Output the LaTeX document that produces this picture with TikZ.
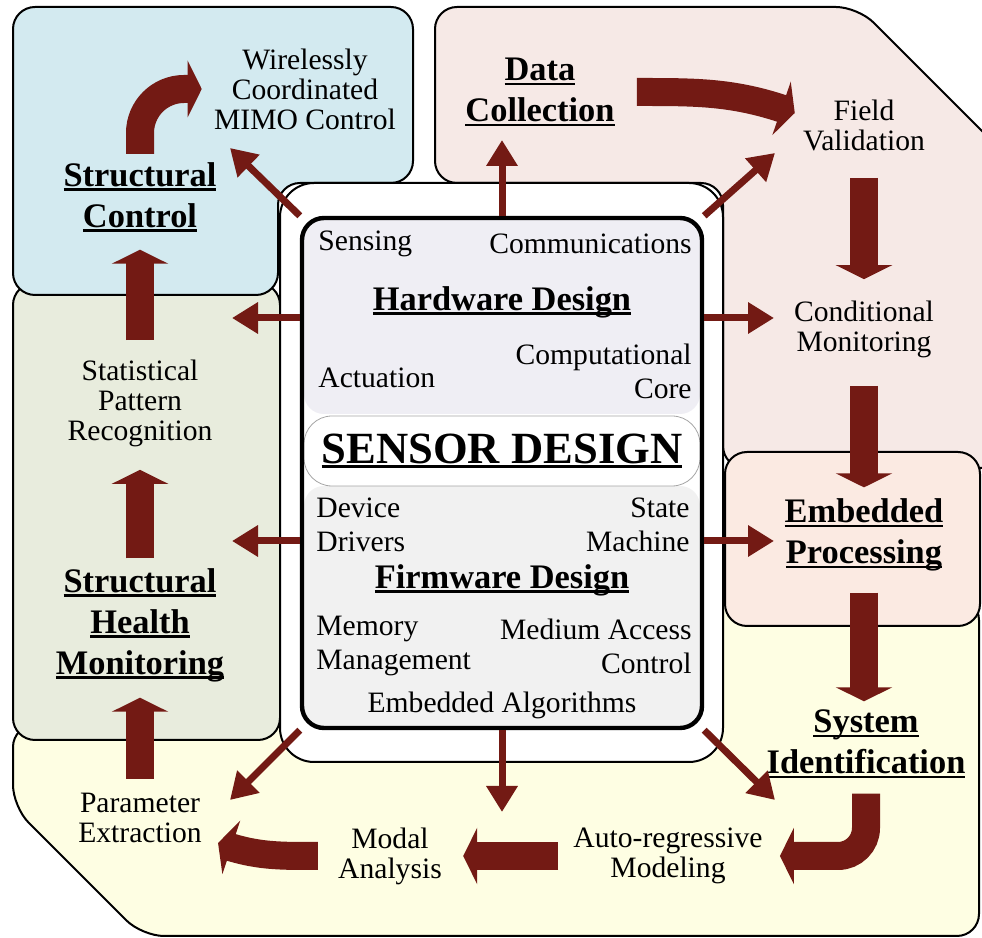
\documentclass[tikz,border=0pt]{standalone}
\usepackage{fontspec}
\setmainfont{Liberation Serif}
\usepackage{tikz}
\usetikzlibrary{arrows.meta, bending, positioning}
\definecolor{myblue}{HTML}{D3EAF0}
\definecolor{mygreen}{HTML}{E8ECDD}
\definecolor{mypink}{HTML}{F6E9E6}
\definecolor{mypeach}{HTML}{FBEAE2}
\definecolor{myyellow}{HTML}{FEFEE3}
\definecolor{mylilac}{HTML}{EFEEF4}
\definecolor{mygrey}{HTML}{F1F1F1}
\definecolor{myred}{HTML}{731A14}
\newcommand{\uword}[2][1.3pt]{\setbox0=\hbox{#2}\rlap{\rule[-2.4pt]{\wd0}{#1}}\box0}

\begin{document}
\begin{tikzpicture}[x=0.5pt, y=0.5pt,
	zone/.style={draw=black, line width=1pt, rounded corners=11pt},
	ray/.style={myred, line width=3.5pt, -{Triangle[length=13pt,width=15pt]}},
	block/.style={myred, line width=14pt, -{Triangle[length=7pt,width=28pt]}},
	txt/.style={font=\fontsize{14.8}{15}\selectfont, align=center, inner sep=0pt},
	inner/.style={font=\fontsize{14.8}{17}\selectfont, inner sep=0pt},
	head/.style={font=\fontsize{17.2}{20.5}\selectfont\bfseries, align=center, inner sep=0pt}]
	\useasboundingbox (0,0) rectangle (982,938);
	\clip (0,0) rectangle (982,938);
	\draw [zone, fill=myyellow] (13,213) -- (13,131) -- (142,2) -- (979,2) -- (979,340) -- (600,340) -- (600,213) -- cycle;
	\draw [zone, fill=mygreen] (13,198) rectangle (280,655);
	\draw [zone, fill=myblue] (13,931) -- (413,931) -- (413,755) -- (278,755) -- (278,643) -- (13,643) -- cycle;
	\draw [zone, fill=mypink] (435,755) -- (435,931) -- (858,931) -- (1100,689) -- (1100,470) -- (723,470) -- (723,755) -- cycle;
	\draw [zone, fill=mypeach] (725,312) rectangle (980,486);
	\draw [zone, fill=white, rounded corners=17pt] (280,176) rectangle (723,755);

	\fill [mylilac, rounded corners=10pt] (304,524) rectangle (700,718);
	\fill [mygrey, rounded corners=10pt] (304,212) rectangle (700,452);
	\draw [gray!70, fill=white, line width=0.4pt, rounded corners=14pt] (304,452) rectangle (700,522);
	\node [draw, line width=2.2pt, rounded corners=11pt, minimum width=200pt, minimum height=255pt] (sensor) at (502,465) {};

	\node [inner, anchor=west] (sensing) at (318,694) {Sensing};
	\node [inner, anchor=east] (comms) at (692,694) {Communications};
	\node [head] (hw) at (502,636) {\uword{Hardware Design}};
	\node [inner, anchor=west] (act) at (318,560) {Actuation};
	\node [inner, anchor=east, align=right] (core) at (692,567) {Computational\\Core};
	\node [font=\fontsize{22.3}{24}\selectfont\bfseries, inner sep=0pt] (title) at (502,487) {\uword[1.8pt]{SENSOR DESIGN}};
	\node [inner, anchor=west, align=left] (drivers) at (316,413) {Device\\Drivers};
	\node [inner, anchor=east, align=right] (fsm) at (690,413) {State\\Machine};
	\node [head] (fw) at (502,358) {\uword{Firmware Design}};
	\node [inner, anchor=west, align=left] (memory) at (316,292) {Memory\\Management};
	\node [inner, anchor=east, align=right] (mac) at (692,292) {Medium Access\\Control};
	\node [inner] (algo) at (502,233) {Embedded Algorithms};

	\node [txt] (mimo) at (305,849) {Wirelessly\\Coordinated\\MIMO Control};
	\node [head] (sc) at (140,741) {\uword{Structural}\\\uword{Control}};
	\node [head] (dc) at (540,846) {\uword{Data}\\\uword{Collection}};
	\node [txt] (fv) at (864,813) {Field\\Validation};
	\node [txt] (cm) at (864,609) {Conditional\\Monitoring};
	\node [head] (ep) at (864,403) {\uword{Embedded}\\\uword{Processing}};
	\node [head] (si) at (866,194) {\uword{System}\\\uword{Identification}};
	\node [txt] (ar) at (668,82) {Auto-regressive\\Modeling};
	\node [txt] (ma) at (390,82) {Modal\\Analysis};
	\node [txt] (pe) at (140,120) {Parameter\\Extraction};
	\node [head] (shm) at (140,313) {\uword{Structural}\\\uword{Health}\\\uword{Monitoring}};
	\node [txt] (spr) at (140,535) {Statistical\\Pattern\\Recognition};

	\coordinate (toMIMO) at (230,790);
	\coordinate (toDC) at (502,798);
	\coordinate (toFV) at (775,785);
	\coordinate (toSPR) at (232,620);
	\coordinate (toCM) at (774,620);
	\coordinate (toSHM) at (232,397);
	\coordinate (toEP) at (774,397);
	\coordinate (toPE) at (230,138);
	\coordinate (toMA) at (502,126);
	\coordinate (toAR) at (775,138);
	\draw [ray] (sensor.north west) -- (toMIMO);
	\draw [ray] (sensor.north) -- (toDC);
	\draw [ray] (sensor.north east) -- (toFV);
	\draw [ray] (sensor.west |- toSPR) -- (toSPR);
	\draw [ray] (sensor.east |- toCM) -- (toCM);
	\draw [ray] (sensor.west |- toSHM) -- (toSHM);
	\draw [ray] (sensor.east |- toEP) -- (toEP);
	\draw [ray] (sensor.south west) -- (toPE);
	\draw [ray] (sensor.south) -- (toMA);
	\draw [ray] (sensor.south east) -- (toAR);

	\draw [block, rounded corners=22pt] ([yshift=4pt]sc.north) |- ([xshift=-6pt]mimo.west);
	\draw [block] ([xshift=11pt]dc.east) to[out=0,in=160] ([shift={(-4pt,6pt)}]fv.west);
	\draw [block, shorten <=13.5pt, shorten >=10.5pt] (fv) -- (cm);
	\draw [block, shorten <=14pt, shorten >=5.5pt] (cm) -- (ep);
	\draw [block, shorten <=10.5pt, shorten >=4pt] (ep) -- (ep |- si.north);
	\draw [block, rounded corners=14pt] ([yshift=-7.5pt]si.south) |- ([xshift=8.5pt]ar.east);
	\draw [block, shorten <=7.5pt, shorten >=10.5pt] (ar) -- (ma);
	\draw [block] ([xshift=-10pt]ma.west) to[out=180,in=-20] ([shift={(8pt,-12.5pt)}]pe.east);
	\draw [block, shorten <=7pt, shorten >=7.8pt] (pe) -- (shm);
	\draw [block, shorten <=4.7pt, shorten >=11.5pt] (shm) -- (spr);
	\draw [block, shorten <=9.5pt, shorten >=8.75pt] (spr) -- (sc);
\end{tikzpicture}
\end{document}
